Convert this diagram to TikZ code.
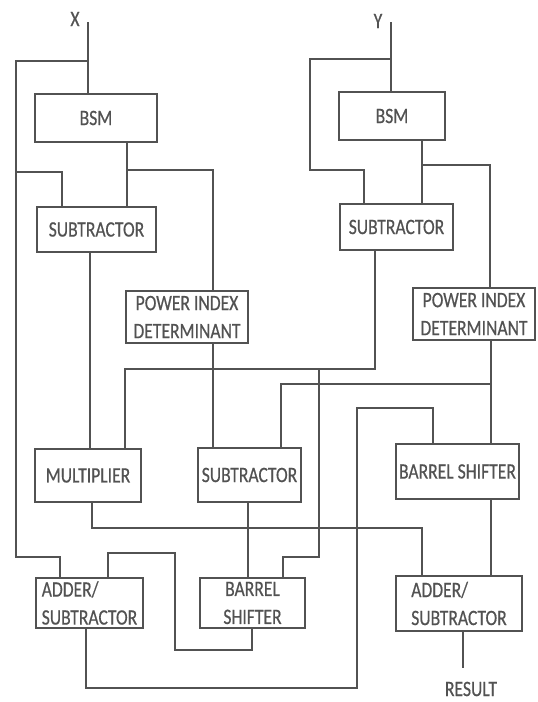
\documentclass[tikz,border=0pt]{standalone}
\usepackage{fontspec}
\setmainfont{Carlito}
\newfontfamily\blockfam[FakeStretch=0.8,FakeBold=0.5]{Carlito}
\usepackage{tikz}
\newcommand\blockfont{\blockfam\fontsize{22}{28}\selectfont}
\tikzset{
  basic/.style   = {draw, rectangle, inner sep=0pt, font=\blockfont},
  block/.style   = {basic, align=center},
  twoline/.style = {basic, align=left},
  port/.style    = {inner sep=0pt, font=\blockfont}
}

\begin{document}
\begin{tikzpicture}[x=1pt,y=-1pt,line width=1.6pt,color=black!68]

\useasboundingbox (0,0) rectangle (538,702);

% X side is left, Y side is right, the two adders are the last row
\node[block, minimum width=122pt, minimum height=48pt] (bsmx) at (96,118)    {BSM};
\node[block, minimum width=119pt, minimum height=45pt] (subx) at (96.5,229.5) {SUBTRACTOR};
\node[block, minimum width=122pt, minimum height=52pt] (pidx) at (187,317)   {POWER INDEX\\DETERMINANT};
\node[block, minimum width=106pt, minimum height=53pt] (mul)  at (88,475.5)  {MULTIPLIER};
\node[block, minimum width=103pt, minimum height=54pt] (subm) at (249.5,475) {SUBTRACTOR};
\node[twoline, minimum width=107pt, minimum height=50pt] (addx) at (89.5,603) {ADDER/\\SUBTRACTOR};
\node[block, minimum width=105pt, minimum height=50pt] (bar)  at (252.5,603) {BARREL\\SHIFTER};

\node[block, minimum width=106pt, minimum height=48pt] (bsmy) at (392,116)   {BSM};
\node[block, minimum width=113pt, minimum height=46pt] (suby) at (396.5,227) {SUBTRACTOR};
\node[block, minimum width=122pt, minimum height=52pt] (pidy) at (474,314)   {POWER INDEX\\DETERMINANT};
\node[block, minimum width=123pt, minimum height=55pt] (bsr)  at (457.5,471.5) {BARREL SHIFTER};
\node[twoline, minimum width=126pt, minimum height=55pt] (addy) at (459,603.5) {ADDER/\\SUBTRACTOR};

\node[port] (xlab)   at (75,19)   {X};
\node[port] (ylab)   at (378,21)  {Y};
\node[port] (result) at (471,689) {RESULT};

\coordinate (xin) at (88,22);
\coordinate (yin) at (391,22);
\coordinate (out) at (463,668);

% inputs
\draw (xin) -- (bsmx.north -| xin);
\draw (yin) -- (bsmy.north -| yin);
\draw (88,61) -| (16,557) -| (addx.north -| 60,0);
\draw (16,172) -| (subx.north -| 62,0);
\draw (391,59) -| (310,170) -| (suby.north -| 364,0);

% bsm outputs
\draw (127,170) -| (pidx.north -| 213,0);
\draw (422,165) -| (pidy.north -| 490,0);

\foreach \x/\a/\b in {127/bsmx/subx, 422/bsmy/suby, 90/subx/mul, 213/pidx/subm,
                      491/pidy/bsr, 491/bsr/addy, 248/subm/bar}
  \draw (\a.south -| \x,0) -- (\b.north -| \x,0);

\draw (suby.south -| 375,0) |- (125,369) -- (mul.north -| 125,0);
\draw (319,369) -- (319,557) -| (bar.north -| 283,0);
\draw (491,384) -| (subm.north -| 281,0);
\draw (mul.south -| 92,0) |- (422,528) -- (addy.north -| 422,0);
\draw (bar.south -| 252,0) |- (175,650) |- (108,553) -- (addx.north -| 108,0);
\draw (addx.south -| 86,0) |- (357,688) |- (433,408) -- (bsr.north -| 433,0);
\draw (addy.south -| out) -- (out);

\end{tikzpicture}
\end{document}
